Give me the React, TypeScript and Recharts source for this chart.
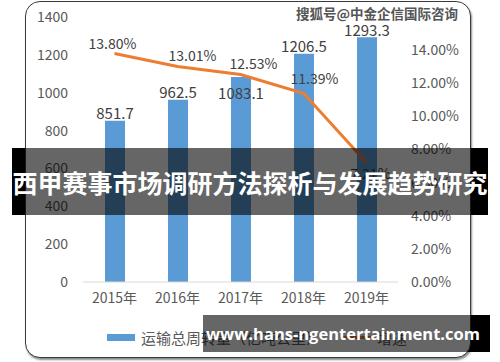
import React from 'react';
import { ComposedChart, Bar, Line, XAxis, YAxis, LabelList, Legend } from 'recharts';

// values
const years = ['2015年', '2016年', '2017年', '2018年', '2019年'];
const volume = [851.7, 962.5, 1083.1, 1206.5, 1293.3];
const growth = [13.8, 13.01, 12.53, 11.39, 7.21];
const leftTicks = [0, 200, 400, 600, 800, 1000, 1200, 1400];
const rightTicks = [0, 2, 4, 6, 8, 10, 12, 14, 16];

const data = years.map((year, i) => ({ year, volume: volume[i], growth: growth[i] }));

const FONT = '"Noto Sans CJK SC", "Noto Sans", sans-serif';
const BLUE = '#5B9BD5';
const ORANGE = '#ED7D31';

// Excel nudged a few labels off their default spot
const growthShift = [[-2, -10], [15, -12], [13, -11], [11, -15], [4, 10]];

const GrowthLabel = (props: any) => {
  const { x, y, value, index } = props;
  const [dx, dy] = growthShift[index] || [0, -10];
  return (
    <text x={x + dx} y={y + dy} textAnchor="middle" dominantBaseline="central"
      fill="#404040" fontSize={14} fontFamily={FONT}>
      {Number(value).toFixed(2)}%
    </text>
  );
};

const VolumeLabel = (props: any) => {
  const { x, y, width, value, index } = props;
  const dy = index === 2 ? 16 : -8;
  return (
    <text x={x + width / 2} y={y + dy} textAnchor="middle" dominantBaseline="central"
      fill="#404040" fontSize={15} fontFamily={FONT}>
      {value}
    </text>
  );
};

const renderLegend = (props: any) => {
  // bars first, like the Excel legend
  const items = [...(props.payload || [])].sort((a: any, b: any) => (a.type === 'line' ? 1 : 0) - (b.type === 'line' ? 1 : 0));
  return (
    <div style={{ display: 'flex', alignItems: 'center', paddingLeft: 107, fontFamily: FONT, fontSize: 15, color: '#595959' }}>
      {items.map((p: any) => (
        <div key={p.value} style={{ display: 'flex', alignItems: 'center', marginRight: 22 }}>
          <span style={{
            display: 'inline-block', width: 28, height: p.type === 'line' ? 3 : 7,
            background: p.color, marginRight: 6,
          }} />
          <span>{p.value}</span>
        </div>
      ))}
    </div>
  );
};

const box = (extra: React.CSSProperties): React.CSSProperties => ({ position: 'absolute', ...extra });

export default function App() {
  return (
    <div style={{ position: 'absolute', left: 0, top: 0, width: 500, height: 362, background: '#fff', overflow: 'hidden' }}>
      {/* black strips behind the overlays */}
      <div style={box({ left: 12, top: 148, width: 476, height: 67, background: '#000' })} />
      <div style={box({ left: 203, top: 315, width: 287, height: 37, background: '#000' })} />

      {/* chart card */}
      <div style={box({
        left: 25, top: 1, width: 444, height: 355, background: '#fff',
        border: '1.5px solid #3a3a3a', borderRadius: 15, boxShadow: '1px 2px 2px rgba(0,0,0,0.45)',
      })} />

      <div style={box({ left: 0, top: 0 })}>
        <ComposedChart width={500} height={362} data={data}
          margin={{ top: 17, right: 22, left: 23, bottom: 50 }} barSize={20}>
          <XAxis dataKey="year" axisLine={{ stroke: '#d9d9d9' }} tickLine={false}
            tickSize={0} tickMargin={11} height={30}
            tick={{ fill: '#595959', fontSize: 14, fontFamily: FONT }} />
          <YAxis yAxisId="left" width={60} domain={[0, 1400]} ticks={leftTicks}
            axisLine={false} tickLine={false} tickSize={0} tickMargin={15}
            tick={{ fill: '#595959', fontSize: 14, fontFamily: FONT }} />
          <YAxis yAxisId="right" orientation="right" width={80} domain={[0, 16]} ticks={rightTicks}
            axisLine={false} tickLine={false} tickSize={0} tickMargin={13}
            tickFormatter={(v: number) => `${v.toFixed(2)}%`}
            tick={{ fill: '#595959', fontSize: 14, fontFamily: FONT }} />
          <Legend verticalAlign="middle" align="center" layout="horizontal"
            wrapperStyle={{ top: 327, left: 0, width: 500 }} content={renderLegend} />
          <Bar yAxisId="left" dataKey="volume" name="运输总周转量（亿吨公里）" fill={BLUE} isAnimationActive={false}>
            <LabelList dataKey="volume" content={VolumeLabel} />
          </Bar>
          <Line yAxisId="right" dataKey="growth" name="增速" type="linear" stroke={ORANGE}
            strokeWidth={3} dot={false} legendType="line" isAnimationActive={false}>
            <LabelList dataKey="growth" content={GrowthLabel} />
          </Line>
        </ComposedChart>
      </div>

      {/* title banner */}
      <div style={box({ left: 12, top: 148, width: 476, height: 67, background: 'rgba(0,0,0,0.6)' })} />
      <div style={box({
        left: 12, top: 148, width: 476, height: 67, display: 'flex', alignItems: 'center', justifyContent: 'center',
        color: '#fff', fontWeight: 700, fontSize: 25, fontFamily: FONT, whiteSpace: 'nowrap',
      })}>西甲赛事市场调研方法探析与发展趋势研究</div>

      {/* bottom watermark */}
      <div style={box({ left: 203, top: 315, width: 287, height: 37, background: 'rgba(0,0,0,0.6)' })} />
      <div style={box({
        left: 206, top: 315, height: 37, display: 'flex', alignItems: 'center',
        color: '#fff', fontWeight: 700, fontSize: 16.5, fontFamily: '"Open Sans", sans-serif', whiteSpace: 'nowrap',
      })}>www.hans-ngentertainment.com</div>

      {/* top watermark */}
      <div style={box({
        left: 291, top: 4, width: 172, height: 18, background: '#fff', display: 'flex', alignItems: 'center',
        justifyContent: 'center', color: '#555', fontWeight: 700, fontSize: 13.5, fontFamily: FONT,
        whiteSpace: 'nowrap', textShadow: '0 0 1px #fff',
      })}>搜狐号@中金企信国际咨询</div>
    </div>
  );
}
